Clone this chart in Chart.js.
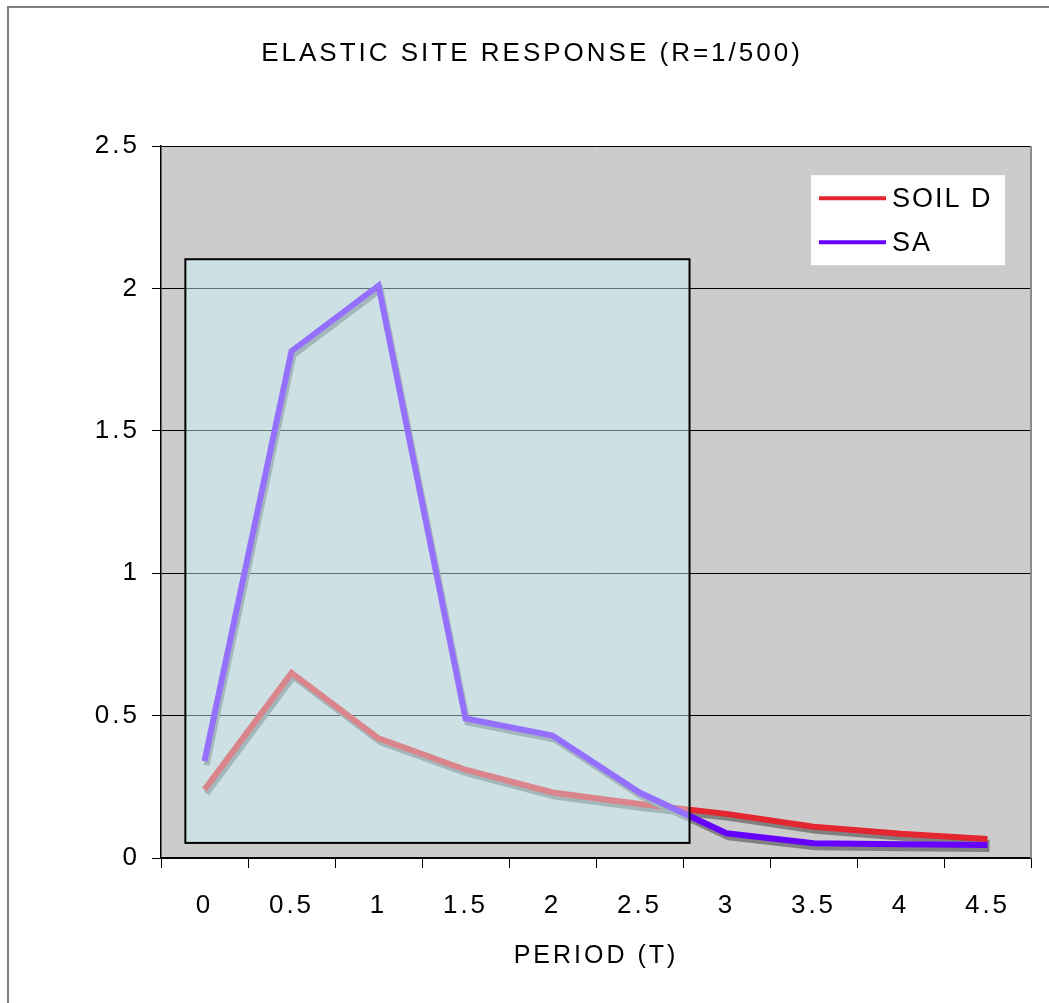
<!DOCTYPE html>
<html>
<head>
<meta charset="utf-8">
<title>Elastic site response</title>
<script src="https://cdn.jsdelivr.net/npm/chart.js@4.4.0/dist/chart.umd.min.js"></script>
<style>
  html, body { margin: 0; padding: 0; background: #fff; }
  #wrap { width: 1049px; height: 1003px; }
</style>
</head>
<body>
<div id="wrap"><canvas id="siteResponse"></canvas></div>
<script>
// period T (s) on the category axis
var periods = ['0', '0.5', '1', '1.5', '2', '2.5', '3', '3.5', '4', '4.5'];
// spectral acceleration, soil class D
var soilD = [0.24, 0.65, 0.42, 0.31, 0.23, 0.19, 0.155, 0.11, 0.085, 0.067];
// site specific SA
var sa = [0.34, 1.78, 2.01, 0.49, 0.43, 0.23, 0.087, 0.052, 0.048, 0.046];
var yTicks = [0, 0.5, 1, 1.5, 2, 2.5];

// shaded window over the short period range (category index / axis units)
var highlight = { from: -0.22, to: 5.575, top: 2.103, bottom: 0.053 };

var FONT = '"Liberation Sans", Arial, sans-serif';
Chart.defaults.font.family = FONT;

// wide letter spacing for all chart text
var textSpacing = {
  id: 'textSpacing',
  beforeUpdate: function (chart) { chart.ctx.letterSpacing = '3px'; },
  beforeDraw: function (chart) { chart.ctx.letterSpacing = '3px'; }
};

// outer frame + grey plot background
var plotFrame = {
  id: 'plotFrame',
  beforeDraw: function (chart) {
    var ctx = chart.ctx, a = chart.chartArea;
    ctx.save();
    ctx.fillStyle = '#cccccc';
    ctx.fillRect(a.left, a.top, a.right - a.left, a.bottom - a.top);
    ctx.strokeStyle = '#808080';
    ctx.lineWidth = 2;
    ctx.strokeRect(8, 7, chart.width + 20, chart.height + 20);
    ctx.restore();
  },
  beforeDatasetsDraw: function (chart) {
    var ctx = chart.ctx, a = chart.chartArea;
    ctx.save();
    ctx.strokeStyle = '#8a8a8a';
    ctx.lineWidth = 2;
    ctx.beginPath();
    ctx.moveTo(a.right, a.top);
    ctx.lineTo(a.right, a.bottom);
    ctx.stroke();
    ctx.restore();
  }
};

// drop shadow under each series
var lineShadow = {
  id: 'lineShadow',
  beforeDatasetDraw: function (chart) {
    var ctx = chart.ctx;
    ctx.save();
    ctx.shadowColor = '#808080';
    ctx.shadowOffsetX = 2;
    ctx.shadowOffsetY = 4;
    ctx.shadowBlur = 0;
  },
  afterDatasetDraw: function (chart) {
    chart.ctx.restore();
  }
};

// translucent box laid over the lines
var windowBox = {
  id: 'windowBox',
  afterDatasetsDraw: function (chart) {
    var ctx = chart.ctx, x = chart.scales.x, y = chart.scales.y;
    var l = x.getPixelForValue(highlight.from), r = x.getPixelForValue(highlight.to);
    var t = y.getPixelForValue(highlight.top), b = y.getPixelForValue(highlight.bottom);
    ctx.save();
    ctx.fillStyle = 'rgba(206, 248, 255, 0.45)';
    ctx.fillRect(l, t, r - l, b - t);
    ctx.strokeStyle = '#000';
    ctx.lineWidth = 2;
    ctx.strokeRect(l, t, r - l, b - t);
    ctx.restore();
  }
};

// legend box inside the plot, top right
var boxLegend = {
  id: 'boxLegend',
  afterDraw: function (chart) {
    var ctx = chart.ctx, a = chart.chartArea;
    var bx = a.right - 220, by = a.top + 29;
    ctx.save();
    ctx.fillStyle = '#fff';
    ctx.fillRect(bx, by, 194, 90);
    ctx.letterSpacing = '2px';
    ctx.font = '27px ' + FONT;
    ctx.textBaseline = 'middle';
    ctx.textAlign = 'left';
    chart.data.datasets.forEach(function (ds, i) {
      var ly = by + 23 + i * 44;
      ctx.strokeStyle = ds.borderColor;
      ctx.lineWidth = 4;
      ctx.beginPath();
      ctx.moveTo(bx + 8, ly);
      ctx.lineTo(bx + 75, ly);
      ctx.stroke();
      ctx.fillStyle = '#000';
      ctx.fillText(ds.label, bx + 81, ly + 1);
    });
    ctx.restore();
  }
};

new Chart(document.getElementById('siteResponse'), {
  type: 'line',
  data: {
    labels: periods,
    datasets: [
      { label: 'SOIL D', data: soilD, borderColor: '#e3262f', order: 1 },
      { label: 'SA', data: sa, borderColor: '#6600ff', order: 0 }
    ]
  },
  options: {
    responsive: true,
    maintainAspectRatio: false,
    animation: false,
    layout: { padding: { left: 33, right: 18, top: 6, bottom: 20 } },
    elements: {
      line: { borderWidth: 6, tension: 0, fill: false, borderCapStyle: 'butt', borderJoinStyle: 'miter' },
      point: { radius: 0, hoverRadius: 0 }
    },
    plugins: {
      legend: { display: false },
      tooltip: { enabled: false },
      title: {
        display: true,
        text: 'ELASTIC SITE RESPONSE (R=1/500)',
        color: '#000',
        font: { family: FONT, size: 26, weight: 'normal' },
        padding: { top: 32, bottom: 77 }
      }
    },
    scales: {
      x: {
        offset: true,
        grid: { offset: true, drawOnChartArea: false, drawTicks: true, tickLength: 10, color: '#000' },
        border: { color: '#000', width: 1.5 },
        ticks: { color: '#000', font: { size: 26 }, padding: 22, maxRotation: 0, autoSkip: false },
        title: {
          display: true,
          text: 'PERIOD (T)',
          color: '#000',
          font: { size: 25 },
          padding: { top: 0, bottom: 12 }
        },
        afterFit: function (s) { s.height = 125; }
      },
      y: {
        min: 0,
        max: 2.5,
        grid: { color: '#000', lineWidth: 1, tickLength: 9 },
        border: { color: '#000', width: 1.5 },
        ticks: {
          color: '#000',
          font: { size: 26 },
          padding: 12,
          callback: function (v) { return String(v); }
        },
        afterBuildTicks: function (s) {
          s.ticks = yTicks.map(function (v) { return { value: v }; });
        },
        afterFit: function (s) { s.width = 128; }
      }
    }
  },
  plugins: [textSpacing, plotFrame, lineShadow, windowBox, boxLegend]
});
</script>
</body>
</html>
